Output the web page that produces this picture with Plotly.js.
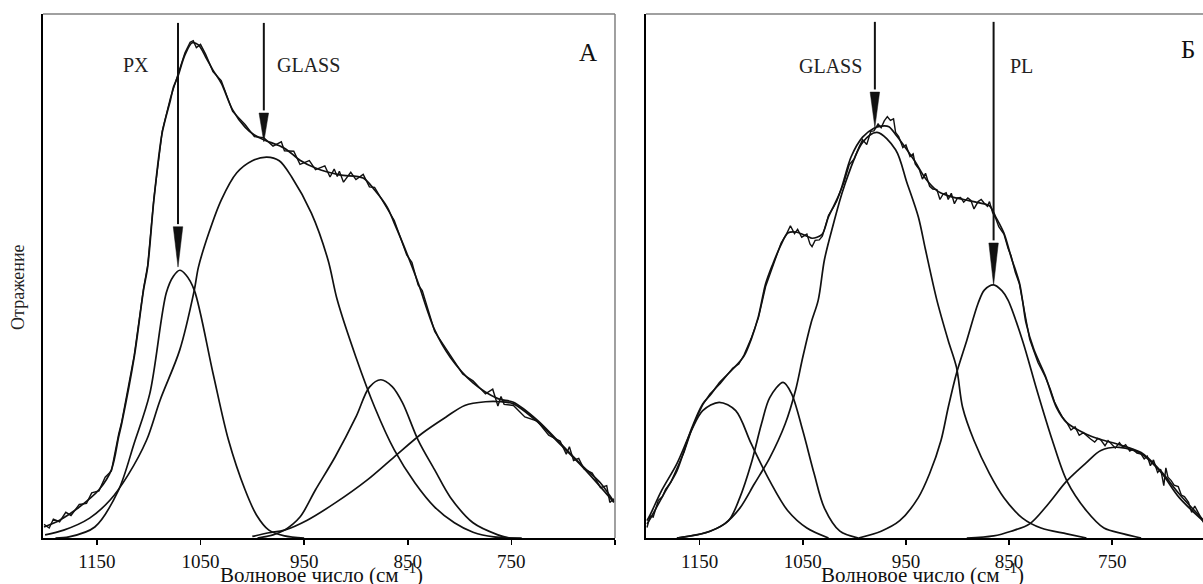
<!DOCTYPE html>
<html>
<head>
<meta charset="utf-8">
<script src="https://cdn.plot.ly/plotly-3.0.1.min.js"></script>
<style>html,body{margin:0;padding:0;background:#fff;}#chart{width:1203px;height:584px;}</style>
</head>
<body>
<div id="chart"></div>
<script>
// ---------- Panel А ----------
const fitA_x = [1201,1186,1167,1148,1136,1129,1126,1114,1105,1101,1095,1087,1079,1076,1072,1065,1058,1052,1045,1038,1030,1019,1007,998,989,969,954,939,916,893,882,870,863,851,840,824,809,787,763,748,725,703,680,664,651];
const fitA_y = [2.1,3.4,5.9,9.2,13.0,19.3,21.9,34.5,47.3,51.7,64.5,77.3,83.6,86.1,88.0,92.2,94.5,94.1,91.8,89.3,86.8,81.7,78.4,76.9,76.0,74.4,72.1,70.6,69.3,68.7,66.4,63.2,60.1,54.4,48.7,39.7,34.5,29.6,26.6,25.9,22.5,18.1,13.5,10.5,6.9];
const dataA_x = [1201,1196,1192,1186,1180,1175,1167,1160,1155,1148,1142,1136,1129,1126,1114,1105,1101,1095,1087,1079,1072,1065,1060,1057,1054,1050,1045,1038,1030,1019,1007,998,989,980,972,969,960,954,945,939,930,925,921,918,916,912,905,900,893,887,882,870,863,851,846,840,836,824,809,797,787,775,768,763,760,757,748,737,725,714,703,697,694,690,685,680,672,664,658,655,651];
const dataA_y = [2.6,1.9,3.6,3.1,4.9,4.3,6.4,6.6,8.6,9.0,11.6,12.8,19.8,22.2,34.8,47.6,52.0,64.8,77.6,84.0,88.3,92.6,94.6,94.9,93.6,94.2,92.3,89.0,87.3,81.4,78.9,76.6,76.4,74.8,75.6,73.9,73.8,71.3,72.0,70.3,71.0,68.9,70.4,69.0,70.0,67.9,69.8,68.4,69.4,67.0,66.9,62.8,60.6,54.0,52.6,48.3,47.2,39.4,34.9,31.3,30.0,27.5,28.4,25.2,27.0,25.5,25.3,23.1,22.3,19.6,18.5,16.0,17.4,14.8,15.2,13.2,12.4,9.6,10.0,6.8,7.5];
const pxA_x = [1190,1177,1152,1129,1114,1099,1083,1076,1070,1064,1056,1038,1023,1007,996,984,969,950];
const pxA_y = [0,0.2,2.1,9.2,18.1,27.5,46.8,50.0,51.1,50.2,47.3,31.5,18.7,9.2,4.4,1.5,0.4,0];
const glassA_x = [1200,1182,1157,1137,1120,1102,1089,1070,1056,1052,1042,1030,1015,1000,986,974,962,943,927,918,900,882,863,843,824,805,787,767,740];
const glassA_y = [0.6,1.5,3.8,7.3,12.0,18.7,26.3,35.9,47.3,51.7,58.2,64.5,69.7,72.0,72.7,72.0,68.9,62.0,53.1,45.4,34.5,25.0,16.8,10.5,5.9,2.9,1.1,0.2,0];
const c3A_x = [995,980,969,954,939,920,900,887,876,865,855,840,824,809,787,763,752];
const c3A_y = [0,0.6,1.5,4.0,9.2,15.5,23.1,28.8,30.2,28.9,25.8,18.7,13.0,7.8,2.9,0.6,0];
const c4A_x = [1000,984,969,947,920,889,863,836,813,795,775,760,748,725,703,680,651];
const c4A_y = [0.3,1.0,1.5,3.4,6.7,11.1,15.5,20.0,23.1,25.3,26.0,26.0,25.6,22.2,17.9,13.3,6.8];

// ---------- Panel Б ----------
const fitB_x = [1201,1197.5,1183,1172,1158,1147,1140,1130,1118,1107,1100,1093,1086,1079,1071,1064.5,1057,1046,1041,1031.5,1025,1014,1003,992,981,974,966.5,960,952,941,931,920,909,894,880,869,863,855,848,840,837,833.5,826,815,804,794,775,761,743,722,703,685,661];
const fitB_y = [2.7,3.8,9.0,12.8,20.8,25.6,27.2,29.8,32.2,34.7,37.9,42.3,48.5,52.3,56.0,58.2,58.4,57.6,57.2,57.9,61.3,65.9,72.8,76.5,78.2,78.6,78.5,77.0,74.9,71.8,68.6,66.3,65.3,64.6,64.0,63.4,61.3,58.2,53.6,48.7,45.4,41.0,36.0,31.0,24.9,22.0,19.8,18.8,17.8,16.3,12.8,8.4,3.3];
const dataB_x = [1201,1198,1195,1190,1186,1183,1178,1172,1165,1158,1152,1147,1140,1130,1118,1112,1107,1100,1093,1086,1079,1071,1066,1062,1058,1055,1051,1046,1043,1041,1038,1034,1031,1025,1020,1017,1014,1010,1005,1000,995,992,988,984,981,977,974,971,968,965,962,960,957,953,950,946,943,941,937,934,931,927,924,920,917,914,911,909,906,903,900,897,894,890,887,884,880,877,874,871,869,866,863,860,855,851,848,844,840,837,833,830,826,822,818,815,810,806,802,798,794,790,786,782,778,775,771,767,764,761,757,754,750,747,743,740,737,733,730,726,722,719,716,713,710,706,703,700,698,696,693,690,686,683,680,676,673,670,666,661];
const dataB_y = [2.0,4.2,4.0,7.2,7.9,9.3,10.6,13.2,16.4,20.5,23.4,25.4,27.5,29.5,32.4,33.2,34.9,38.1,42.0,48.0,52.0,56.3,57.9,59.6,58.1,58.9,57.4,58.0,56.1,55.6,56.8,56.9,57.6,61.6,63.2,64.3,66.0,67.9,71.2,72.4,74.8,76.0,75.1,77.6,77.7,79.0,78.3,79.6,80.4,79.7,80.0,77.4,76.6,74.5,75.0,72.8,73.3,71.4,70.3,68.5,69.6,67.1,66.6,66.5,64.6,65.6,65.9,64.6,65.8,63.8,64.9,65.0,64.1,64.9,64.4,62.8,64.2,64.6,63.9,63.3,64.2,62.1,61.0,59.4,58.0,55.3,53.8,50.7,48.5,45.5,41.2,37.9,35.7,33.5,32.0,30.8,28.4,26.0,24.4,23.0,22.0,20.6,21.2,19.6,20.1,19.5,18.9,18.3,19.0,18.7,17.6,18.6,17.9,17.2,18.2,17.4,17.8,16.6,16.9,16.2,16.0,15.1,15.6,13.8,14.9,12.5,13.1,10.0,13.4,11.6,11.0,10.1,9.8,8.2,7.9,6.8,4.9,6.1,4.6,2.8];
const c1B_x = [1201,1197.5,1187,1172,1158,1147,1131,1115,1100,1082,1064.5,1046,1025];
const c1B_y = [3.3,4.6,9.0,14.2,20.5,24.3,25.9,24.3,18.0,10.9,5.2,1.9,0];
const c2B_x = [1172,1140,1122,1111,1100,1090,1082,1069,1061,1050,1039,1029,1014,996];
const c2B_y = [0,1.3,3.3,7.7,14.2,21.8,26.8,29.7,27.6,20.5,12.3,5.7,1.3,0];
const glassB_x = [1172,1144,1126,1111,1097,1082,1067,1057,1050,1042,1035,1029,1021,1010,992,978,960,949,938,931,920,909,901,895,884,869,855,837,819,794,775];
const glassB_y = [0,1.0,2.7,5.7,10.3,15.3,21.8,28.2,34.5,41.0,45.4,53.1,59.4,67.0,75.5,77.4,74.1,67.8,61.3,55.0,45.4,37.7,32.6,24.9,18.6,12.3,7.7,3.8,1.9,0.8,0];
const plB_x = [996,974,956,938,927,916,909,901,891,880,874,865,857,851,837,823,808,794,775,758,739,722];
const plB_y = [0,1.3,3.3,7.7,12.3,18.6,24.9,31.4,37.7,44.8,47.3,48.3,47.2,45.4,37.7,28.2,18.6,10.9,5.2,1.9,0.8,0];
const c5B_x = [891,865,848,830,812,794,775,761,743,722,703,685,661];
const c5B_y = [0,0.4,1.3,2.7,6.5,10.9,14.4,16.7,17.3,16.1,12.6,7.7,3.1];

// ---------- ticks, labels, arrows ----------
const tickVals = [1150,1050,950,850,750,650];
const tickText = ['1150','1050','950','850','750',' '];
// arrows: [wavenumber, tip value, head-top value, tail value]
const arrowsA = [[1071.7,51.7,59.4,98.3],[988.9,75.6,81.1,98.3]];
const arrowsB = [[980.1,78.4,85.1,98.5],[865.0,48.3,56.3,98.5]];
const labelsA = [['PX',1112,90.3],['GLASS',945.5,90.3]];
const labelsB = [['GLASS',1022.8,90.0],['PL',838.3,90.0]];
const panelA = ['А',675.8,92.7];
const panelB = ['Б',676.2,93.3];
const xTitle = 'Волновое число (см <sup>-1</sup>)';
const yTitle = 'Отражение';

const INK = '#111';
const FONT = 'Liberation Serif';

function line(x, y, xa, ya, smooth, w) {
  return {x: x, y: y, xaxis: xa, yaxis: ya, type: 'scatter', mode: 'lines',
    line: {color: INK, width: w || 1.7, shape: smooth ? 'spline' : 'linear', smoothing: 0.9},
    hoverinfo: 'skip', cliponaxis: true};
}

const traces = [
  line(dataA_x, dataA_y, 'x', 'y', false, 1.4),
  line(fitA_x, fitA_y, 'x', 'y', true),
  line(pxA_x, pxA_y, 'x', 'y', true),
  line(glassA_x, glassA_y, 'x', 'y', true),
  line(c3A_x, c3A_y, 'x', 'y', true),
  line(c4A_x, c4A_y, 'x', 'y', true),
  line(dataB_x, dataB_y, 'x2', 'y2', false, 1.4),
  line(fitB_x, fitB_y, 'x2', 'y2', true),
  line(c1B_x, c1B_y, 'x2', 'y2', true),
  line(c2B_x, c2B_y, 'x2', 'y2', true),
  line(glassB_x, glassB_y, 'x2', 'y2', true),
  line(plB_x, plB_y, 'x2', 'y2', true),
  line(c5B_x, c5B_y, 'x2', 'y2', true)
];

const shapes = [];
function addArrows(list, xr, yr) {
  list.forEach(a => {
    const [x, tip, head, top] = a;
    shapes.push({type: 'line', xref: xr, yref: yr, x0: x, x1: x, y0: top, y1: head + 0.5,
      line: {color: INK, width: 2}});
    shapes.push({type: 'path', xref: xr, yref: yr,
      path: 'M ' + (x - 4.6) + ',' + head + ' L ' + (x + 4.6) + ',' + head + ' L ' + x + ',' + tip + ' Z',
      fillcolor: INK, line: {color: INK, width: 0.5}});
  });
}
addArrows(arrowsA, 'x', 'y');
addArrows(arrowsB, 'x2', 'y2');
// light frame lines (top / right)
shapes.push({type: 'line', xref: 'x domain', yref: 'y domain', x0: 0, x1: 1, y0: 1, y1: 1, line: {color: '#808080', width: 1.5}});
shapes.push({type: 'line', xref: 'x domain', yref: 'y domain', x0: 1, x1: 1, y0: 0, y1: 1, line: {color: '#808080', width: 1.5}});
shapes.push({type: 'line', xref: 'x2 domain', yref: 'y2 domain', x0: 0, x1: 1, y0: 1, y1: 1, line: {color: '#808080', width: 1.5}});

const annotations = [];
labelsA.forEach(l => annotations.push({text: l[0], x: l[1], y: l[2], xref: 'x', yref: 'y', showarrow: false,
  font: {family: FONT, size: 20, color: '#222'}}));
labelsB.forEach(l => annotations.push({text: l[0], x: l[1], y: l[2], xref: 'x2', yref: 'y2', showarrow: false,
  font: {family: FONT, size: 20, color: '#222'}}));
annotations.push({text: panelA[0], x: panelA[1], y: panelA[2], xref: 'x', yref: 'y', showarrow: false,
  font: {family: FONT, size: 25, color: '#111'}});
annotations.push({text: panelB[0], x: panelB[1], y: panelB[2], xref: 'x2', yref: 'y2', showarrow: false,
  font: {family: FONT, size: 25, color: '#111'}});
annotations.push({text: xTitle, x: 0.240, y: -0.0680, xref: 'paper', yref: 'paper', showarrow: false,
  xanchor: 'center', yanchor: 'middle', font: {family: FONT, size: 21, color: '#111'}});
annotations.push({text: xTitle, x: 0.7586, y: -0.0680, xref: 'paper', yref: 'paper', showarrow: false,
  xanchor: 'center', yanchor: 'middle', font: {family: FONT, size: 21, color: '#111'}});
annotations.push({text: yTitle, x: -0.0216, y: 0.479, xref: 'paper', yref: 'paper', showarrow: false,
  textangle: -90, xanchor: 'center', yanchor: 'middle', font: {family: FONT, size: 18, color: '#222'}});

const xBase = {
  tickmode: 'array', tickvals: tickVals, ticktext: tickText,
  ticks: 'outside', ticklen: 5, tickwidth: 1.5, tickcolor: '#000',
  showline: true, linecolor: '#000', linewidth: 2, showgrid: false, zeroline: false,
  tickfont: {family: FONT, size: 19, color: '#111'}, fixedrange: true
};
const yBase = {
  range: [0, 100], showticklabels: false, ticks: '', showline: true, linecolor: '#000', linewidth: 2,
  showgrid: false, zeroline: false, domain: [0, 1], fixedrange: true
};

const layout = {
  width: 1203, height: 584,
  margin: {l: 43, r: 0, t: 14, b: 46, pad: 0},
  paper_bgcolor: '#fff', plot_bgcolor: '#fff',
  showlegend: false,
  xaxis: Object.assign({}, xBase, {domain: [0, 0.4931], range: [1202, 650], anchor: 'y'}),
  yaxis: Object.assign({}, yBase, {anchor: 'x'}),
  xaxis2: Object.assign({}, xBase, {domain: [0.5198, 1], range: [1202, 662], anchor: 'y2'}),
  yaxis2: Object.assign({}, yBase, {anchor: 'x2'}),
  shapes: shapes,
  annotations: annotations
};

Plotly.newPlot('chart', traces, layout, {displayModeBar: false, staticPlot: true});
</script>
</body>
</html>
